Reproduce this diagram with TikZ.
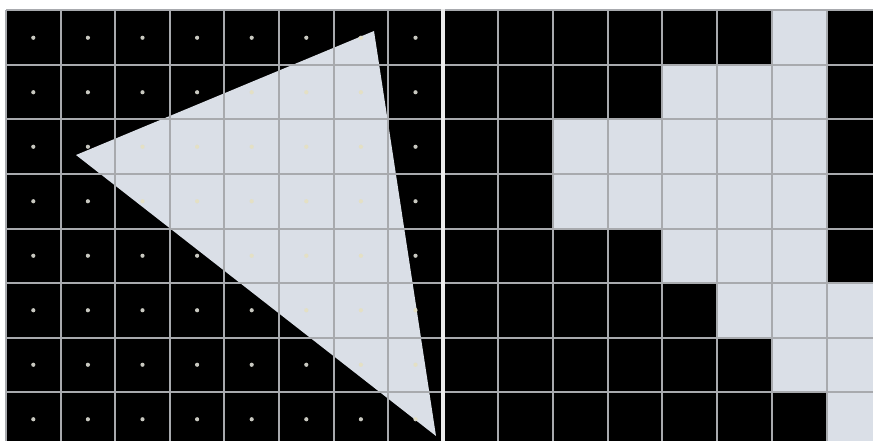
\documentclass[tikz,border=0pt]{standalone}
\usepackage{tikz}
\definecolor{litcol}{HTML}{DADFE7}
\definecolor{gridcol}{HTML}{A8AAAE}
\definecolor{dotcol}{HTML}{C8C8C0}
\definecolor{dotin}{HTML}{E4E0C4}
\definecolor{divcol}{HTML}{ECECEC}
\tikzset{
  gridline/.style={draw=gridcol, line width=2pt},
  divider/.style={draw=divcol, line width=4pt},
  litcell/.style={fill=litcol},
  sampledot/.style={fill=dotcol},
  sampledotin/.style={fill=dotin},
}
\begin{document}
\begin{tikzpicture}[x=1pt,y=-1pt]
  \useasboundingbox (0,0) rectangle (873,441);
  \fill[white] (0,0) rectangle (873,441);
  % ---------- left panel ----------
  \fill[black] (6,10.5) rectangle (443,441);
  \coordinate (vtop) at (374,31);
  \coordinate (vleft) at (76,155);
  \coordinate (vbot) at (436,436);
  \fill[litcell] (vtop) -- (vleft) -- (vbot) -- cycle;
  % sample dots
  \foreach \c in {0,...,7}{
    \foreach \r in {0,...,7}{
      \fill[sampledot] ({6+54.6*(\c+0.5)},{10.5+54.5*(\r+0.5)}) circle (2.1);
    }
  }
  \begin{scope}
    \clip (vtop) -- (vleft) -- (vbot) -- cycle;
    \foreach \c in {0,...,7}{
      \foreach \r in {0,...,7}{
        \fill[litcol] ({6+54.6*(\c+0.5)},{10.5+54.5*(\r+0.5)}) circle (2.6);
        \fill[sampledotin] ({6+54.6*(\c+0.5)},{10.5+54.5*(\r+0.5)}) circle (2.1);
      }
    }
  \end{scope}
  % ---------- right panel ----------
  \fill[black] (443,10.5) rectangle (873,441);
  \foreach \c/\r in {6/0, 4/1,5/1,6/1, 2/2,3/2,4/2,5/2,6/2, 2/3,3/3,4/3,5/3,6/3,
                     4/4,5/4,6/4, 5/5,6/5,7/5, 6/6,7/6, 7/7}{
    \fill[litcell] ({443+54.857*\c},{10.5+54.5*\r}) rectangle ({443+54.857*(\c+1)},{10.5+54.5*(\r+1)});
  }
  % ---------- grid lines ----------
  \foreach \i in {0,...,7}{
    \draw[gridline] ({6+54.6*\i},10.5) -- ({6+54.6*\i},441);
  }
  \foreach \i in {1,...,7}{
    \draw[gridline] ({443+54.857*\i},10.5) -- ({443+54.857*\i},441);
  }
  \foreach \j in {0,...,7}{
    \draw[gridline] (6,{10.5+54.5*\j}) -- (873,{10.5+54.5*\j});
  }
  \draw[divider] (443,9.5) -- (443,441);
\end{tikzpicture}
\end{document}
